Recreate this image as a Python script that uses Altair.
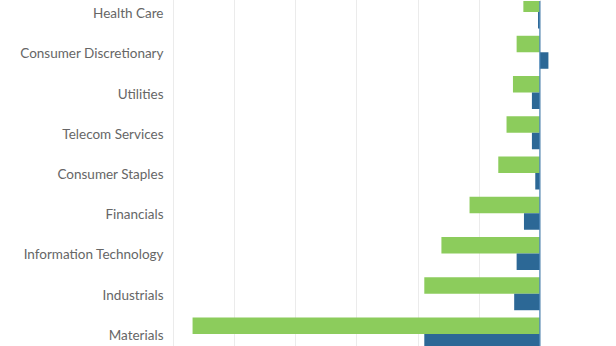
import altair as alt
import pandas as pd

categories = ["Health Care", "Consumer Discretionary", "Utilities", "Telecom Services",
              "Consumer Staples", "Financials", "Information Technology", "Industrials", "Materials"]
series_names = ["Series 1", "Series 2"]
series1 = [-0.27, -0.38, -0.44, -0.545, -0.68, -1.15, -1.61, -1.89, -5.68]
series2 = [-0.03, 0.14, -0.13, -0.13, -0.075, -0.26, -0.38, -0.42, -1.89]
x_ticks = [-6, -5, -4, -3, -2, -1, 0, 1]

rows = []
for c, a, b in zip(categories, series1, series2):
    rows.append({"category": c, "series": series_names[0], "value": a})
    rows.append({"category": c, "series": series_names[1], "value": b})
df = pd.DataFrame(rows)

colors = ["#8CCC5C", "#2C6896"]

bars = alt.Chart(df).mark_bar(clip=True).encode(
    x=alt.X("value:Q",
            scale=alt.Scale(domain=[x_ticks[0], x_ticks[-1]], nice=False, zero=False),
            axis=alt.Axis(values=x_ticks, labels=False, ticks=False, domain=False,
                          grid=True, gridColor="#EBEBEB", gridWidth=1, title=None)),
    y=alt.Y("category:N", sort=categories,
            scale=alt.Scale(range=[-9.1, 353.1], paddingInner=0.18, paddingOuter=0.09),
            axis=alt.Axis(title=None, ticks=False, domain=False, labelPadding=10,
                          labelFont="Lato", labelFontSize=13.5, labelColor="#666666",
                          labelOffset=2, minExtent=173, maxExtent=173)),
    yOffset=alt.YOffset("series:N", sort=series_names),
    color=alt.Color("series:N", scale=alt.Scale(domain=series_names, range=colors), legend=None),
)

zero = alt.Chart(pd.DataFrame({"z": [0]})).mark_rule(color="#4A86B8", strokeWidth=1.2).encode(
    x="z:Q"
)

chart = alt.layer(bars, zero).properties(
    width=428, height=346, padding=0
).configure_view(stroke=None)

chart.save("out.html", embed_options={"renderer": "svg", "actions": False})
